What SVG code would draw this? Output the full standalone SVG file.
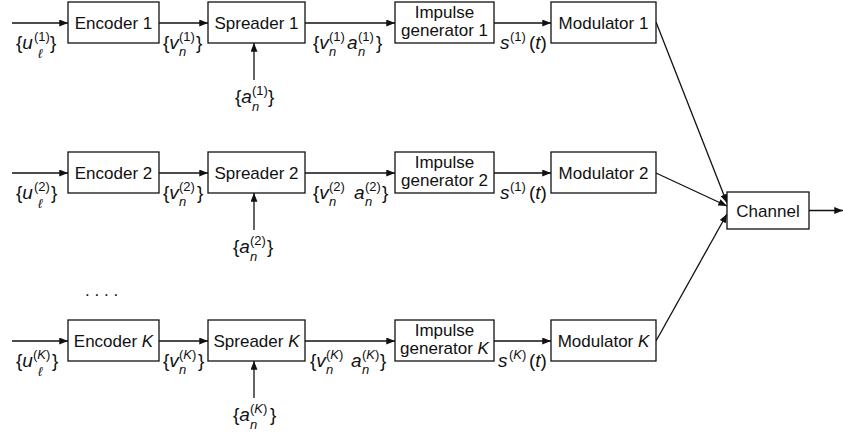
<svg xmlns="http://www.w3.org/2000/svg" width="843" height="433" viewBox="0 0 843 433">
  <style>
    .box { fill: #fff; stroke: #111; stroke-width: 1.3; }
    .ln { fill: none; stroke: #111; stroke-width: 1.3; }
    .t { font-family: "Liberation Sans", Arial, Helvetica, sans-serif; font-size: 17px; fill: #111; }
    .l { font-size: 19px; }
    .c { text-anchor: middle; }
    .s { font-size: 13px; }
    .i { font-style: italic; }
  </style>
  <defs>
    <marker id="ah" viewBox="0 0 10 8" refX="10" refY="4" markerWidth="9" markerHeight="7" markerUnits="userSpaceOnUse" orient="auto">
      <path d="M0,0 L10,4 L0,8 z" fill="#111"/>
    </marker>
  </defs>

  <rect width="843" height="433" fill="#fff"/>

  <!-- connectors -->
  <g id="connectors" class="ln" marker-end="url(#ah)">
    <!-- user 1 chain -->
    <line x1="12" y1="23" x2="68" y2="23"/>
    <line x1="159" y1="23" x2="208" y2="23"/>
    <line x1="305" y1="23" x2="395" y2="23"/>
    <line x1="494" y1="23" x2="551" y2="23"/>
    <line x1="254" y1="80" x2="254" y2="43"/>
    <!-- user 2 chain -->
    <line x1="12" y1="173" x2="68" y2="173"/>
    <line x1="159" y1="173" x2="208" y2="173"/>
    <line x1="305" y1="173" x2="395" y2="173"/>
    <line x1="494" y1="173" x2="551" y2="173"/>
    <line x1="254" y1="230" x2="254" y2="193"/>
    <!-- user K chain -->
    <line x1="12" y1="341" x2="68" y2="341"/>
    <line x1="159" y1="341" x2="208" y2="341"/>
    <line x1="305" y1="341" x2="395" y2="341"/>
    <line x1="494" y1="341" x2="551" y2="341"/>
    <line x1="254" y1="398" x2="254" y2="361"/>
    <!-- modulators into channel -->
    <line x1="656" y1="22" x2="727" y2="203"/>
    <line x1="656" y1="173" x2="727" y2="206"/>
    <line x1="656" y1="341" x2="727" y2="214"/>
    <!-- channel output -->
    <line x1="809" y1="210.5" x2="843" y2="210.5"/>
  </g>

  <!-- row 1 -->
  <g id="encoder1"><rect class="box" x="68" y="2" width="91" height="41"/><text class="t c" x="113.5" y="29">Encoder 1</text></g>
  <g id="spreader1"><rect class="box" x="208" y="2" width="97" height="41"/><text class="t c" x="256.5" y="29">Spreader 1</text></g>
  <g id="impulse1"><rect class="box" x="395" y="2" width="99" height="41"/><text class="t c" x="444.5" y="17.5">Impulse</text><text class="t c" x="444.5" y="36">generator 1</text></g>
  <g id="modulator1"><rect class="box" x="551" y="2" width="105" height="41"/><text class="t c" x="603.5" y="29">Modulator 1</text></g>

  <!-- row 2 -->
  <g id="encoder2"><rect class="box" x="68" y="152" width="91" height="41"/><text class="t c" x="113.5" y="179">Encoder 2</text></g>
  <g id="spreader2"><rect class="box" x="208" y="152" width="97" height="41"/><text class="t c" x="256.5" y="179">Spreader 2</text></g>
  <g id="impulse2"><rect class="box" x="395" y="152" width="99" height="41"/><text class="t c" x="444.5" y="167.5">Impulse</text><text class="t c" x="444.5" y="186">generator 2</text></g>
  <g id="modulator2"><rect class="box" x="551" y="152" width="105" height="41"/><text class="t c" x="603.5" y="179">Modulator 2</text></g>

  <!-- row K -->
  <g id="encoderK"><rect class="box" x="68" y="320" width="91" height="41"/><text class="t c" x="113.5" y="347">Encoder <tspan class="i">K</tspan></text></g>
  <g id="spreaderK"><rect class="box" x="208" y="320" width="97" height="41"/><text class="t c" x="256.5" y="347">Spreader <tspan class="i">K</tspan></text></g>
  <g id="impulseK"><rect class="box" x="395" y="320" width="99" height="41"/><text class="t c" x="444.5" y="335.5">Impulse</text><text class="t c" x="444.5" y="354">generator <tspan class="i">K</tspan></text></g>
  <g id="modulatorK"><rect class="box" x="551" y="320" width="105" height="41"/><text class="t c" x="603.5" y="347">Modulator <tspan class="i">K</tspan></text></g>

  <!-- channel -->
  <g id="channel"><rect class="box" x="727" y="192" width="82" height="37"/><text class="t c" x="768" y="216.5">Channel</text></g>

  <!-- signal labels, row 1 -->
  <g id="labels1">
    <text class="t l"><tspan x="16" y="49">{</tspan><tspan class="i">u</tspan><tspan class="s" x="34" y="41">(1)</tspan><tspan class="s i" x="38" y="57.5">ℓ</tspan><tspan x="50" y="49">}</tspan></text>
    <text class="t l"><tspan x="163" y="49">{</tspan><tspan class="i">v</tspan><tspan class="s" x="179" y="41">(1)</tspan><tspan class="s i" x="179" y="56">n</tspan><tspan x="196" y="49">}</tspan></text>
    <text class="t l"><tspan x="313" y="49">{</tspan><tspan class="i">v</tspan><tspan class="s" x="329" y="41">(1)</tspan><tspan class="s i" x="329" y="56">n</tspan><tspan class="i" x="347" y="49">a</tspan><tspan class="s" x="358" y="41">(1)</tspan><tspan class="s i" x="358" y="56">n</tspan><tspan x="376" y="49">}</tspan></text>
    <text class="t l"><tspan class="i" x="500" y="49">s</tspan><tspan class="s" x="510" y="41">(1)</tspan><tspan x="529" y="49">(</tspan><tspan class="i">t</tspan><tspan>)</tspan></text>
    <text class="t l"><tspan x="235" y="103">{</tspan><tspan class="i">a</tspan><tspan class="s" x="252" y="95">(1)</tspan><tspan class="s i" x="252" y="111">n</tspan><tspan x="268" y="103">}</tspan></text>
  </g>

  <!-- signal labels, row 2 -->
  <g id="labels2">
    <text class="t l"><tspan x="16" y="199">{</tspan><tspan class="i">u</tspan><tspan class="s" x="34" y="191">(2)</tspan><tspan class="s i" x="38" y="207.5">ℓ</tspan><tspan x="51" y="199">}</tspan></text>
    <text class="t l"><tspan x="163" y="199">{</tspan><tspan class="i">v</tspan><tspan class="s" x="179" y="191">(2)</tspan><tspan class="s i" x="179" y="206">n</tspan><tspan x="197" y="199">}</tspan></text>
    <text class="t l"><tspan x="313" y="199">{</tspan><tspan class="i">v</tspan><tspan class="s" x="329" y="191">(2)</tspan><tspan class="s i" x="329" y="206">n</tspan><tspan class="i" x="354" y="199">a</tspan><tspan class="s" x="365" y="191">(2)</tspan><tspan class="s i" x="365" y="206">n</tspan><tspan x="382" y="199">}</tspan></text>
    <text class="t l"><tspan class="i" x="500" y="199">s</tspan><tspan class="s" x="510" y="191">(1)</tspan><tspan x="529" y="199">(</tspan><tspan class="i">t</tspan><tspan>)</tspan></text>
    <text class="t l"><tspan x="233" y="253">{</tspan><tspan class="i">a</tspan><tspan class="s" x="250" y="245">(2)</tspan><tspan class="s i" x="250" y="261">n</tspan><tspan x="267" y="253">}</tspan></text>
  </g>

  <text class="t" x="85" y="296" letter-spacing="4.8">....</text>

  <!-- signal labels, row K -->
  <g id="labelsK">
    <text class="t l"><tspan x="16" y="367">{</tspan><tspan class="i">u</tspan><tspan class="s" x="33" y="359">(<tspan class="i">K</tspan>)</tspan><tspan class="s i" x="38" y="375.5">ℓ</tspan><tspan x="52" y="367">}</tspan></text>
    <text class="t l"><tspan x="163" y="367">{</tspan><tspan class="i">v</tspan><tspan class="s" x="179" y="359">(<tspan class="i">K</tspan>)</tspan><tspan class="s i" x="179" y="374">n</tspan><tspan x="198" y="367">}</tspan></text>
    <text class="t l"><tspan x="310" y="367">{</tspan><tspan class="i">v</tspan><tspan class="s" x="326" y="359">(<tspan class="i">K</tspan>)</tspan><tspan class="s i" x="326" y="374">n</tspan><tspan class="i" x="351" y="367">a</tspan><tspan class="s" x="362" y="359">(<tspan class="i">K</tspan>)</tspan><tspan class="s i" x="362" y="374">n</tspan><tspan x="380" y="367">}</tspan></text>
    <text class="t l"><tspan class="i" x="498" y="367">s</tspan><tspan class="s" x="509" y="359">(<tspan class="i">K</tspan>)</tspan><tspan x="529" y="367">(</tspan><tspan class="i">t</tspan><tspan>)</tspan></text>
    <text class="t l"><tspan x="233" y="421">{</tspan><tspan class="i">a</tspan><tspan class="s" x="250" y="413">(<tspan class="i">K</tspan>)</tspan><tspan class="s i" x="250" y="429">n</tspan><tspan x="270" y="421">}</tspan></text>
  </g>
</svg>
